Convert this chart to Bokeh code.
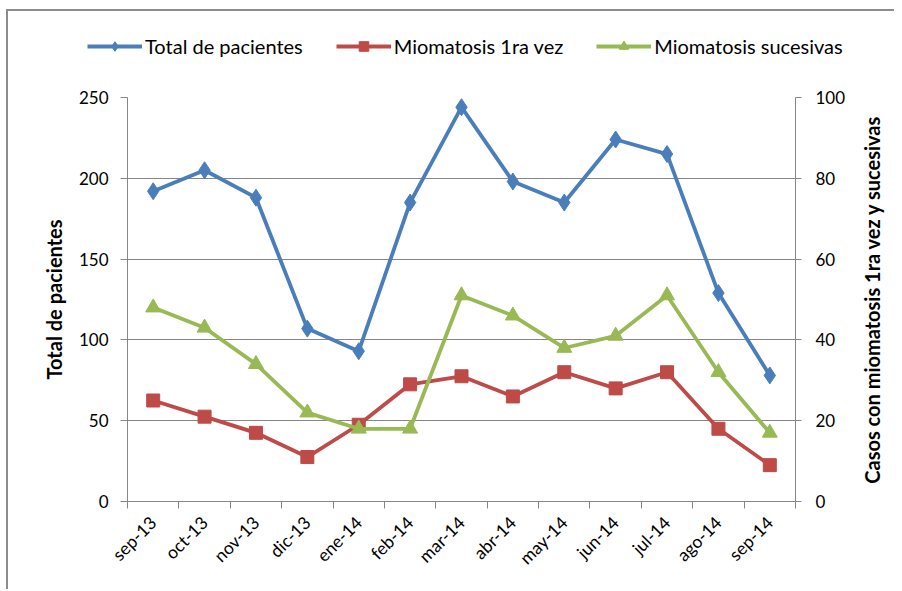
import math
from bokeh.plotting import figure
from bokeh.layouts import column, row
from bokeh.models import Range1d, LinearAxis, FixedTicker, Legend, LegendItem, Label
from bokeh.embed import file_html
from bokeh.resources import INLINE

months = ["sep-13", "oct-13", "nov-13", "dic-13", "ene-14", "feb-14", "mar-14",
          "abr-14", "may-14", "jun-14", "jul-14", "ago-14", "sep-14"]
total_pacientes = [192, 205, 188, 107, 93, 185, 244, 198, 185, 224, 215, 129, 78]
miomatosis_1ra = [25, 21, 17, 11, 19, 29, 31, 26, 32, 28, 32, 18, 9]
miomatosis_suc = [48, 43, 34, 22, 18, 18, 51, 46, 38, 41, 51, 32, 17]
series_names = ["Total de pacientes", "Miomatosis 1ra vez", "Miomatosis sucesivas"]
left_title = "Total de pacientes"
right_title = "Casos con miomatosis 1ra vez y sucesivas"
left_ticks = [0, 50, 100, 150, 200, 250]
right_ticks = [0, 20, 40, 60, 80, 100]

BLUE = "#4A7EBB"
RED = "#BE4B48"
GREEN = "#98B954"
GRID = "#868686"
FONT = "Lato"
W = 886
RW = 40          # strip on the right that holds the right-axis title
H = 518
TOP = 26
FRAME_H = 404

n = len(months)
xs = [i + 0.5 for i in range(n)]

# ---------- main chart ----------
p = figure(width=W - RW, height=H, x_range=Range1d(0, n), y_range=Range1d(0, 250),
           output_backend="svg", toolbar_location=None,
           min_border_left=119, min_border_right=W - RW - 787, min_border_top=TOP,
           min_border_bottom=H - TOP - FRAME_H)
p.outline_line_color = None
p.background_fill_color = "white"
p.border_fill_color = "white"
p.frame_align = False

p.extra_y_ranges = {"right": Range1d(0, 100)}

p.xgrid.visible = False
p.ygrid.grid_line_color = GRID
p.ygrid.grid_line_width = 1
p.ygrid.ticker = FixedTicker(ticks=left_ticks)

xa = p.xaxis[0]
xa.ticker = FixedTicker(ticks=xs, minor_ticks=list(range(n + 1)))
xa.major_label_overrides = {x: m for x, m in zip(xs, months)}
xa.major_label_orientation = math.pi / 4
xa.major_tick_line_color = None
xa.minor_tick_line_color = GRID
xa.minor_tick_out = 7
xa.minor_tick_in = 0
xa.axis_line_color = GRID
xa.major_label_text_font = FONT
xa.major_label_text_font_size = "17.5px"
xa.major_label_text_color = "black"
xa.major_label_standoff = 11

ya = p.yaxis[0]
ya.ticker = FixedTicker(ticks=left_ticks)
ya.minor_tick_line_color = None
ya.major_tick_out = 7
ya.major_tick_in = 0
ya.major_tick_line_color = GRID
ya.axis_line_color = GRID
ya.major_label_text_font = FONT
ya.major_label_text_font_size = "17px"
ya.major_label_text_color = "black"
ya.major_label_standoff = 12
ya.axis_label = left_title
ya.axis_label_text_font = FONT
ya.axis_label_text_font_size = "20px"
ya.axis_label_text_font_style = "bold"
ya.axis_label_text_color = "black"
ya.axis_label_standoff = 10

ra = LinearAxis(y_range_name="right", ticker=FixedTicker(ticks=right_ticks))
ra.minor_tick_line_color = None
ra.major_tick_out = 6
ra.major_tick_in = 0
ra.major_tick_line_color = GRID
ra.axis_line_color = GRID
ra.major_label_text_font = FONT
ra.major_label_text_font_size = "17px"
ra.major_label_text_color = "black"
ra.major_label_standoff = 14
p.add_layout(ra, "right")

p.line(xs, total_pacientes, line_color=BLUE, line_width=3.8)
p.scatter(xs, total_pacientes, marker="diamond", size=17, color=BLUE)
p.line(xs, miomatosis_1ra, line_color=RED, line_width=3.8, y_range_name="right")
p.scatter(xs, miomatosis_1ra, marker="square", size=13, color=RED, y_range_name="right")
p.line(xs, miomatosis_suc, line_color=GREEN, line_width=3.8, y_range_name="right")
p.scatter(xs, miomatosis_suc, marker="triangle", size=15, color=GREEN, y_range_name="right")

# ---------- right strip holding the right-axis title (reads bottom to top) ----------
rf = figure(width=RW, height=H, x_range=Range1d(0, 1), y_range=Range1d(0, 1),
            output_backend="svg", toolbar_location=None,
            x_axis_location=None, y_axis_location=None, min_border=0)
rf.outline_line_color = None
rf.xgrid.visible = False
rf.ygrid.visible = False
rf.frame_align = False
rf.add_layout(Label(x=17, y=H - (TOP + FRAME_H / 2), x_units="screen", y_units="screen",
                    text=right_title, angle=math.pi / 2, text_align="center",
                    text_baseline="middle", text_font=FONT, text_font_size="20px",
                    text_font_style="bold", text_color="black"))

# ---------- legend strip (series drawn out of view; only the legend shows) ----------
lg = figure(width=W, height=60, x_range=Range1d(0, n), y_range=Range1d(-20, -10),
            output_backend="svg", toolbar_location=None,
            x_axis_location=None, y_axis_location=None, min_border=0)
lg.outline_line_color = None
lg.xgrid.visible = False
lg.ygrid.visible = False
lg.frame_align = False
items = []
for name, vals, col, mk in zip(series_names,
                               [total_pacientes, miomatosis_1ra, miomatosis_suc],
                               [BLUE, RED, GREEN], ["diamond", "square", "triangle"]):
    rl = lg.line(xs, vals, line_color=col, line_width=3.8)
    rs = lg.scatter(xs, vals, marker=mk, color=col, size=10)
    items.append(LegendItem(label=name, renderers=[rl, rs]))

legend = Legend(items=items, orientation="horizontal", location=(79, 13))
legend.border_line_color = None
legend.background_fill_alpha = 0
legend.padding = 0
legend.margin = 0
legend.spacing = 33
legend.glyph_width = 55
legend.glyph_height = 24
legend.label_standoff = 3
legend.label_text_font = FONT
legend.label_text_font_size = "20px"
legend.label_text_color = "black"
lg.add_layout(legend, "center")

layout = column(lg, row(p, rf, spacing=0), spacing=0,
                styles={"border-top": "2px solid #8c8c8c", "border-left": "2px solid #8c8c8c",
                        "margin-left": "6px", "margin-top": "9px"})

open("out.html", "w").write(file_html(layout, INLINE))
